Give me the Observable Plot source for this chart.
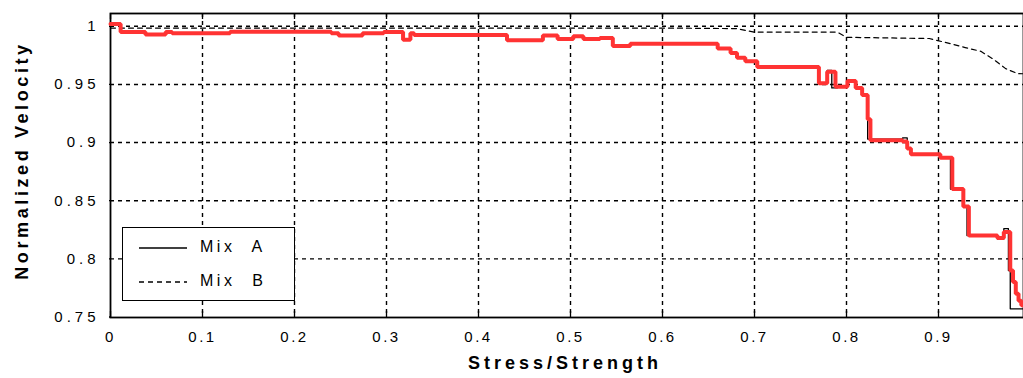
<!DOCTYPE html>
<html>
<head>
<meta charset="utf-8">
<script src="https://cdn.jsdelivr.net/npm/d3@7"></script>
<script src="https://cdn.jsdelivr.net/npm/@observablehq/plot@0.6"></script>
<style>
  html, body { margin: 0; padding: 0; background: #fff; }
  #wrap { position: relative; width: 1023px; height: 378px; overflow: hidden; font-family: "Liberation Sans", Arial, sans-serif; }
  #wrap svg { display: block; }
  g[aria-label="x-axis tick label"] text { letter-spacing: 2.5px; }
  g[aria-label="y-axis tick label"] text { letter-spacing: 4px; }
  #legend { position: absolute; left: 122px; top: 227px; width: 171px; height: 72px; border: 1.5px solid #000; background: #fff; }
  #legend .row { position: absolute; left: 0; height: 20px; display: flex; align-items: center; }
  #legend .row span { font-size: 16px; letter-spacing: 3.5px; word-spacing: 9px; color: #000; margin-left: 12px; }
</style>
</head>
<body>
<div id="wrap">
  <div id="legend"></div>
</div>
<script>
// ---- data ----
const xTicks = [0, 0.1, 0.2, 0.3, 0.4, 0.5, 0.6, 0.7, 0.8, 0.9, 1];
const xTickLabels = ["0", "0.1", "0.2", "0.3", "0.4", "0.5", "0.6", "0.7", "0.8", "0.9", "1"];
const yTicks = [0.75, 0.8, 0.85, 0.9, 0.95, 1];
const yTickLabels = ["0.75", "0.8", "0.85", "0.9", "0.95", "1"];
const xGrid = [0.1, 0.2, 0.3, 0.4, 0.5, 0.6, 0.7, 0.8, 0.9];
const yGrid = [0.8, 0.85, 0.9, 0.95, 1];

const xTitle = "Stress/Strength";
const yTitle = "Normalized Velocity";
const seriesNames = ["Mix A", "Mix B"];

// Mix A (solid black, stepwise)
const mixAX = [0, 0.011, 0.038, 0.06, 0.067, 0.13, 0.24, 0.248, 0.274, 0.297, 0.318, 0.326, 0.33, 0.431, 0.47, 0.486, 0.503, 0.514, 0.532, 0.546, 0.565, 0.66, 0.674, 0.681, 0.69, 0.703, 0.77, 0.779, 0.784, 0.79, 0.801, 0.81, 0.817, 0.823, 0.861, 0.866, 0.87, 0.902, 0.913, 0.927, 0.931, 0.964, 0.971, 0.976, 0.978, 1.0];
const mixAV = [1.002, 0.995, 0.993, 0.995, 0.994, 0.9953, 0.994, 0.992, 0.994, 0.995, 0.9885, 0.994, 0.9925, 0.988, 0.992, 0.989, 0.9915, 0.989, 0.990, 0.983, 0.985, 0.981, 0.977, 0.973, 0.970, 0.965, 0.951, 0.962, 0.947, 0.949, 0.953, 0.947, 0.941, 0.903, 0.904, 0.895, 0.890, 0.887, 0.860, 0.845, 0.820, 0.817, 0.826, 0.79, 0.757, 0.757];

// Red highlighted trace (thick, follows Mix A)
const redX = [0, 0.011, 0.038, 0.06, 0.067, 0.13, 0.24, 0.248, 0.274, 0.297, 0.318, 0.326, 0.33, 0.431, 0.47, 0.486, 0.503, 0.514, 0.532, 0.546, 0.565, 0.66, 0.674, 0.681, 0.69, 0.703, 0.77, 0.779, 0.788, 0.801, 0.81, 0.817, 0.823, 0.826, 0.861, 0.866, 0.87, 0.902, 0.915, 0.927, 0.933, 0.964, 0.971, 0.978, 0.981, 0.984, 0.987, 0.99, 1.0];
const redV = [1.002, 0.995, 0.993, 0.995, 0.994, 0.9953, 0.994, 0.992, 0.994, 0.995, 0.9885, 0.994, 0.9925, 0.988, 0.992, 0.989, 0.9915, 0.989, 0.990, 0.983, 0.985, 0.981, 0.977, 0.973, 0.970, 0.965, 0.951, 0.961, 0.948, 0.953, 0.947, 0.941, 0.920, 0.902, 0.901, 0.895, 0.890, 0.887, 0.860, 0.845, 0.820, 0.818, 0.823, 0.790, 0.780, 0.770, 0.764, 0.760, 0.760];

// Mix B (dashed)
const mixBX = [0, 0.3, 0.6, 0.68, 0.70, 0.79, 0.80, 0.89, 0.913, 0.929, 0.946, 0.959, 0.973, 0.986, 1.0];
const mixBV = [0.9985, 0.9985, 0.9985, 0.998, 0.995, 0.995, 0.9905, 0.9895, 0.985, 0.9817, 0.9785, 0.972, 0.9636, 0.9593, 0.959];

// ---- tables ----
const mixA = mixAX.map((x, i) => ({x, v: mixAV[i]}));
const red = redX.map((x, i) => ({x, v: redV[i]}));
const mixB = mixBX.map((x, i) => ({x, v: mixBV[i]}));

const chart = Plot.plot({
  width: 1023,
  height: 378,
  marginLeft: 110,
  marginTop: 13,
  marginBottom: 61,
  marginRight: 0,
  style: {fontFamily: "Liberation Sans, Arial, sans-serif", fontSize: "15px", color: "#000", background: "#fff"},
  x: {domain: [0, 1], range: [110, 1030]},
  y: {domain: [0.75, 1.011], range: [316.5, 13]},
  marks: [
    Plot.ruleX(xGrid, {stroke: "#000", strokeWidth: 1.4, strokeDasharray: "4,4"}),
    Plot.ruleY(yGrid, {stroke: "#000", strokeWidth: 1.4, strokeDasharray: "4,4"}),
    Plot.tickX(xTicks, {stroke: "#000", strokeWidth: 1.3, insetTop: 298}),
    Plot.tickX(xTicks, {stroke: "#000", strokeWidth: 1.3, insetBottom: 298}),
    Plot.tickY(yTicks, {stroke: "#000", strokeWidth: 1.3, insetRight: 914}),
    Plot.frame({stroke: "#000", strokeWidth: 1.8}),
    Plot.line(mixB, {x: "x", y: "v", stroke: "#000", strokeWidth: 1.2, strokeDasharray: "5,4"}),
    Plot.line(mixA, {x: "x", y: "v", stroke: "#000", strokeWidth: 1.3, curve: "step-after"}),
    Plot.line(red, {x: "x", y: "v", stroke: "#ff3333", strokeWidth: 4, curve: "step-after", strokeLinejoin: "miter"}),
    Plot.axisX(xTicks, {tickSize: 0, tickPadding: 14, fontSize: 15, label: null,
      tickFormat: d => xTickLabels[xTicks.indexOf(d)]}),
    Plot.axisY(yTicks, {tickSize: 0, tickPadding: 11, fontSize: 15, label: null,
      tickFormat: d => yTickLabels[yTicks.indexOf(d)]}),
    Plot.text([xTitle], {frameAnchor: "bottom", dy: 46, dx: -2, text: d => d, fontSize: 18, fontWeight: "bold", fill: "#000", lineAnchor: "middle", textAnchor: "middle"}),
    Plot.text([yTitle], {frameAnchor: "left", dx: -88, dy: -5, rotate: -90, text: d => d, fontSize: 18, fontWeight: "bold", fill: "#000", lineAnchor: "middle", textAnchor: "middle"})
  ]
});
// spaced-out title lettering, as in the reference
d3.select(chart).selectAll("text")
  .filter(function() { return this.textContent === xTitle; })
  .style("letter-spacing", "4px");
d3.select(chart).selectAll("text")
  .filter(function() { return this.textContent === yTitle; })
  .style("letter-spacing", "3.6px");

const wrap = document.getElementById("wrap");
wrap.insertBefore(chart, wrap.firstChild);

// legend overlay
const legend = document.getElementById("legend");
const styles = [{dash: null}, {dash: "5,4"}];
seriesNames.forEach((name, i) => {
  const row = document.createElement("div");
  row.className = "row";
  row.style.top = (i === 0 ? 9 : 43) + "px";
  row.style.left = "15px";
  const svgNS = "http://www.w3.org/2000/svg";
  const s = document.createElementNS(svgNS, "svg");
  s.setAttribute("width", "50"); s.setAttribute("height", "20");
  const l = document.createElementNS(svgNS, "line");
  l.setAttribute("x1", "1"); l.setAttribute("x2", "49");
  l.setAttribute("y1", "11"); l.setAttribute("y2", "11");
  l.setAttribute("stroke", "#000"); l.setAttribute("stroke-width", "1.4");
  if (styles[i].dash) l.setAttribute("stroke-dasharray", styles[i].dash);
  s.appendChild(l);
  row.appendChild(s);
  const t = document.createElement("span");
  t.textContent = name;
  row.appendChild(t);
  legend.appendChild(row);
});
</script>
</body>
</html>
